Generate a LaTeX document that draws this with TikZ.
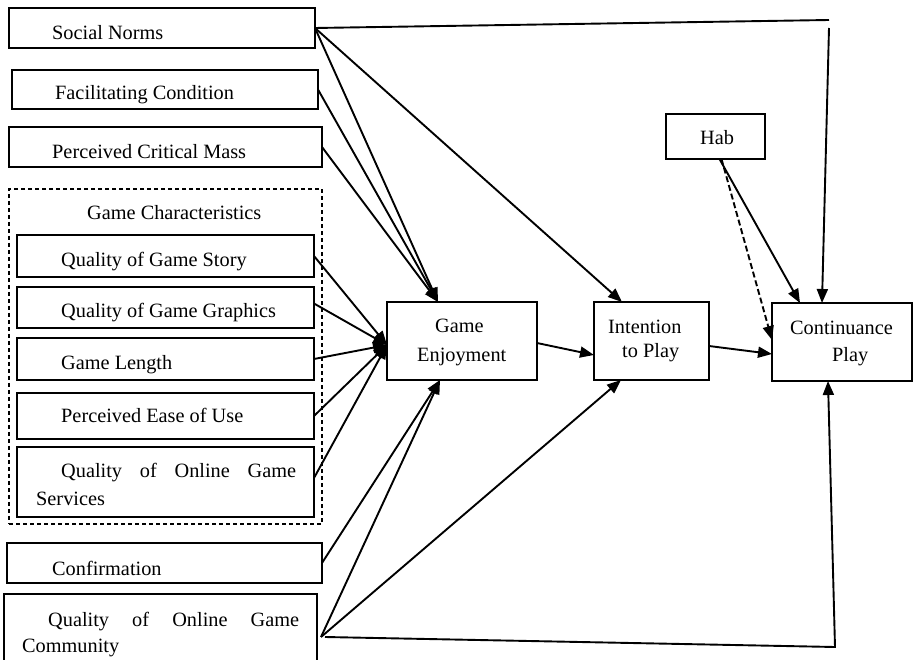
\documentclass[tikz,border=0pt]{standalone}
\usepackage{fontspec}
\setmainfont{Liberation Serif}
\usetikzlibrary{arrows.meta}
\newcommand\mybox[6][]{\node[box,#1,anchor=north west,minimum width={#5-#3},minimum height={#6-#4}] (#2) at (#3,#4) {};}
\begin{document}
\begin{tikzpicture}[x=1pt,y=-1pt,
  box/.style={draw,line width=1.7pt,inner sep=0pt,outer sep=0pt},
  lbl/.style={inner sep=0pt,font=\fontsize{20.3}{24}\selectfont,anchor=base west},
  arr/.style={line width=1.9pt,-{Triangle[length=14pt,width=11pt]}},
  ln/.style={line width=1.9pt},
  grp/.style={draw,line width=1.1pt,dash pattern=on 4pt off 3pt,inner sep=0pt}]
\useasboundingbox (0,0) rectangle (914,660);
\clip (0,0) rectangle (914,660);
% left column
\mybox{sn}{9}{8}{315}{48}
\node[lbl] (snT) at (52,40) {Social Norms};
\mybox{fc}{12}{70}{318}{109}
\node[lbl] (fcT) at (55,100) {Facilitating Condition};
\mybox{pcm}{9}{127}{322}{167}
\node[lbl] (pcmT) at (52,159) {Perceived Critical Mass};
\mybox[grp]{gc}{9}{189}{322}{524}
\node[lbl] (gcT) at (87,220) {Game Characteristics};
\mybox{qgs}{17}{235}{314}{277}
\node[lbl] (qgsT) at (61,267) {Quality of Game Story};
\mybox{qgg}{17}{287}{314}{328}
\node[lbl] (qggT) at (61,318) {Quality of Game Graphics};
\mybox{gl}{17}{338}{314}{380}
\node[lbl] (glT) at (61,370) {Game Length};
\mybox{peu}{17}{393}{314}{439}
\node[lbl] (peuT) at (61,423) {Perceived Ease of Use};
\mybox{qogs}{17}{447}{314}{517}
\node[lbl] (qogsT1) at (61,478) {\makebox[235pt][s]{Quality of Online Game}};
\node[lbl] (qogsT2) at (36,505) {Services};
\mybox{conf}{7}{543}{322}{583}
\node[lbl] (confT) at (52,575) {Confirmation};
\mybox{qogc}{4}{594}{317}{680}
\node[lbl] (qogcT1) at (48,626) {\makebox[251pt][s]{Quality of Online Game}};
\node[lbl] (qogcT2) at (22,652) {Community};
% middle / right
\mybox{ge}{387}{302}{537}{380}
\node[lbl] (geT1) at (435,333) {Game};
\node[lbl] (geT2) at (417,362) {Enjoyment};
\mybox{itp}{594}{302}{709}{380}
\node[lbl] (itpT1) at (608,334) {Intention};
\node[lbl] (itpT2) at (622,358) {to Play};
\mybox{hab}{666}{114}{765}{159}
\node[lbl] (habT) at (700,145) {Hab};
\mybox{cp}{772}{303}{912}{381}
\node[lbl] (cpT1) at (790,335) {Continuance};
\node[lbl] (cpT2) at (832,362) {Play};
% connection points
\coordinate (geN) at ([xshift=-24pt]ge.north);
\coordinate (geW) at ([yshift=-4pt]ge.west);
\coordinate (geS) at ([xshift=-22pt]ge.south);
\coordinate (itpN) at ([xshift=-29.5pt]itp.north);
\coordinate (itpS) at ([xshift=-30.5pt]itp.south);
\coordinate (topR) at (829,20);
\coordinate (topV) at (829,28);
\coordinate (botR) at (835,647);
% connectors
\draw[arr] (sn.east) -- (geN);
\draw[arr] (fc.east) -- (geN);
\draw[arr] (pcm.east) -- (geN);
\draw[arr] (sn.east) -- (itpN);
\draw[ln] (sn.east) -- (topR);
\draw[arr] (topV) -- ([xshift=-20pt]cp.north);
\draw[arr] (qgs.east) -- (geW);
\draw[arr] ([yshift=4pt]qgg.east) -- (geW);
\draw[arr] (gl.east) -- (geW);
\draw[arr] (peu.east) -- (geW);
\draw[arr] ([yshift=4pt]qogs.east) -- (geW);
\draw[arr] (conf.east) -- (geS);
\draw[arr] ([xshift=4pt]qogc.east) -- (geS);
\draw[arr] ([xshift=4pt]qogc.east) -- (itpS);
\draw[arr] ([xshift=8pt]qogc.east) -- (botR) -- ([xshift=-14pt]cp.south);
\draw[arr] ([yshift=-2pt]ge.east) -- ([yshift=-14pt]itp.west);
\draw[arr] ([yshift=-5pt]itp.east) -- ([yshift=-12pt]cp.west);
\draw[arr] ([xshift=4pt]hab.south) -- ([xshift=-42pt]cp.north);
\draw[arr,dash pattern=on 6pt off 3pt] ([xshift=6pt]hab.south) -- ([yshift=-37pt]cp.north west);
\end{tikzpicture}
\end{document}
